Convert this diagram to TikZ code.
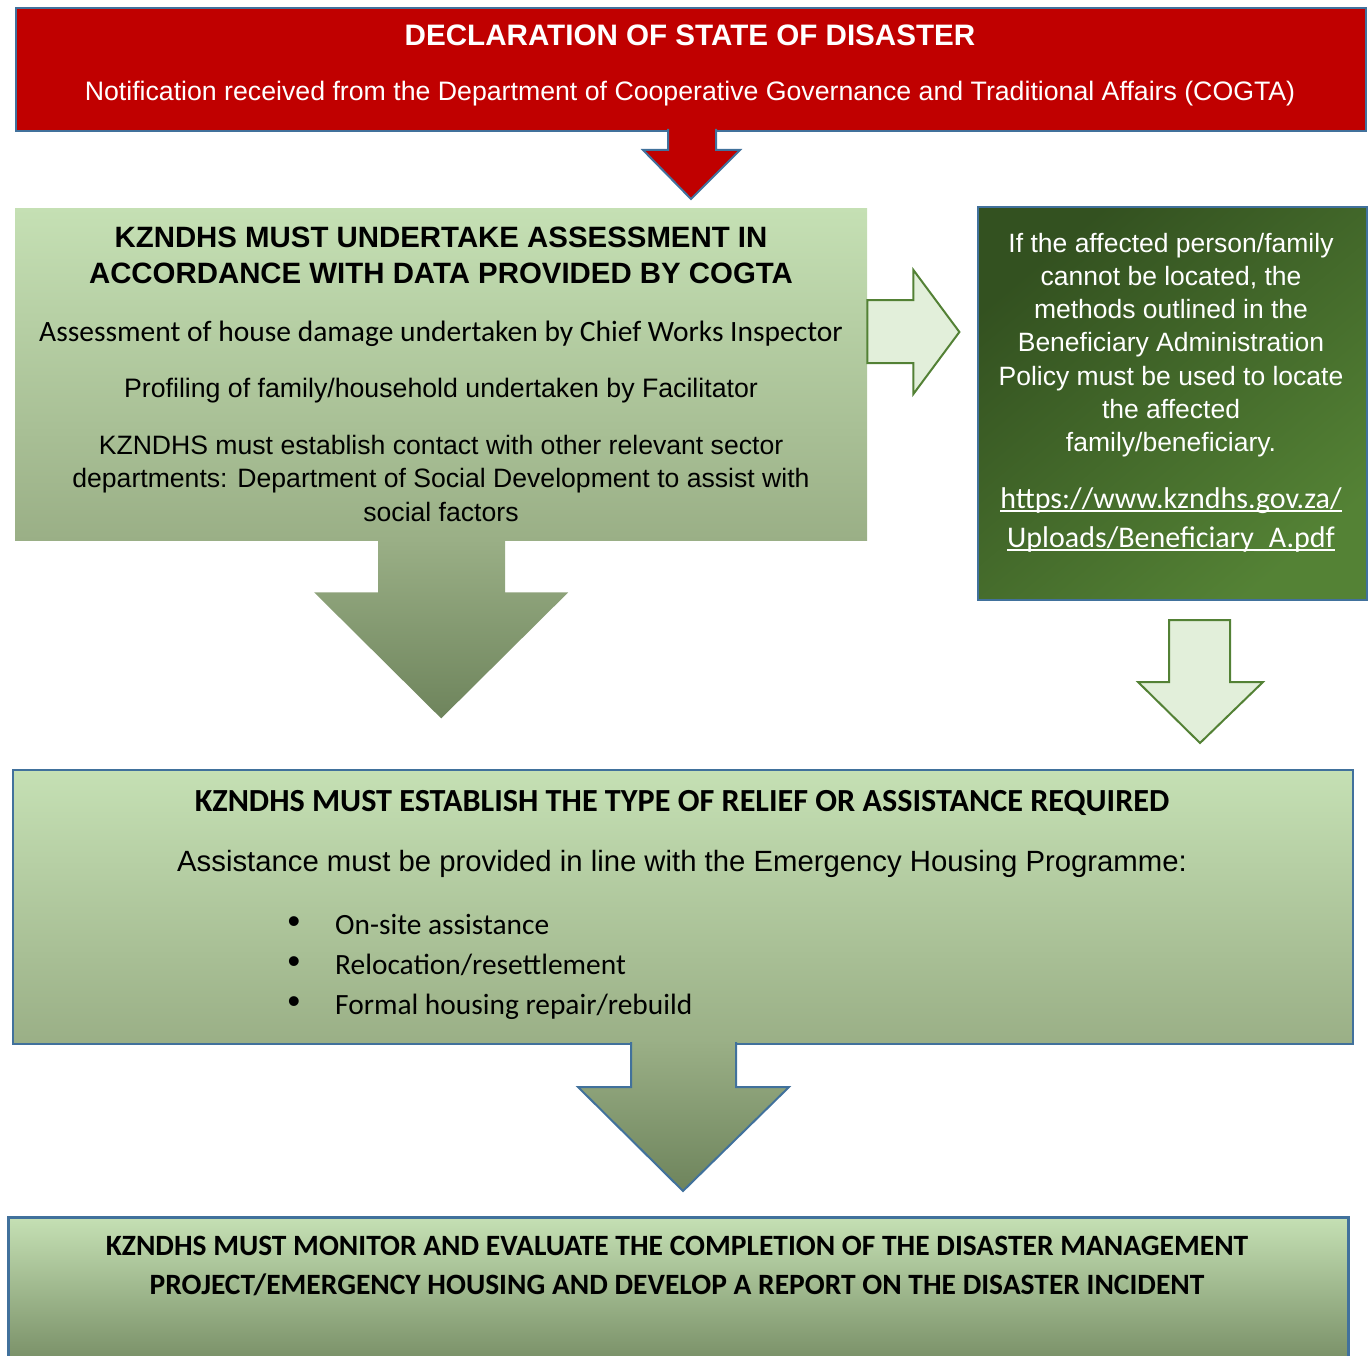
\documentclass[tikz,border=0pt]{standalone}
\usepackage{fontspec}
\setmainfont{Liberation Sans}
\newfontfamily\calibri{Carlito}
\usepackage{tikz}
\usetikzlibrary{calc}
\usetikzlibrary{positioning}

\definecolor{decred}{HTML}{C00000}
\definecolor{edgeblue}{HTML}{41719C}
\definecolor{sagetop}{HTML}{C5E0B4}
\definecolor{sagemid}{HTML}{9AAF86}
\definecolor{sagelow}{HTML}{6E845C}
\definecolor{palegreen}{HTML}{E2EFDA}
\definecolor{leafgreen}{HTML}{538135}
\definecolor{forestdark}{HTML}{335120}
\definecolor{forestlight}{HTML}{548235}

\newlength\linkwd
\newcommand{\linkunder}[1]{\settowidth{\linkwd}{#1}#1\hspace{-\linkwd}\rule[-3.5pt]{\linkwd}{1.6pt}}

\tikzset{
  panel/.style={rectangle, anchor=north west, inner sep=0pt},
  hollowarrow/.style={fill=palegreen, draw=leafgreen, line width=2pt},
  txt/.style={inner sep=0pt, align=center},
}

\begin{document}
\begin{tikzpicture}[x=1pt,y=-1pt]
  \useasboundingbox (0,0) rectangle (1370,1356);

  % boxes
  \node[panel,
    fill=decred,
    draw=edgeblue,
    line width=2pt,
    minimum width=1350pt,
    minimum height=123pt] (declare) at (15,7) {};
  \node[panel,
    top color=sagetop,
    bottom color=sagemid,
    minimum width=852pt,
    minimum height=332pt] (assess) at (15,208) {};
  \node[panel,
    top color=forestdark,
    bottom color=forestlight,
    shading angle=40,
    draw=edgeblue,
    line width=2pt,
    minimum width=389pt,
    minimum height=393pt] (locate) at (977,206) {};
  \node[panel,
    top color=sagetop,
    bottom color=sagemid,
    draw=edgeblue,
    line width=2pt,
    minimum width=1340pt,
    minimum height=274pt] (relief) at (12,769) {};
  \node[panel,
    top color=sagetop,
    bottom color=sagelow,
    draw=edgeblue,
    line width=2.5pt,
    minimum width=1340pt,
    minimum height=165pt] (monitor) at (7,1216) {};

  % block arrows
  \path[fill=decred, draw=edgeblue, line width=2pt]
    ($(declare.south)+(-23,-3)$) -- ++(0,21) -- ++(-25,0) -- ++(48,49)
    -- ++(49,-49) -- ++(-24,0) -- ++(0,-21);
  \shade[top color=sagemid, bottom color=sagelow]
    ($(assess.south)+(-63,-1)$) -- ++(0,53) -- ++(-64,0) -- ++(127,126)
    -- ++(127,-126) -- ++(-63,0) -- ++(0,-53) -- cycle;
  \draw[hollowarrow]
    ($(assess.north east)+(0,92)$) -- ++(46,0) -- ++(0,-30) -- ++(46,62)
    -- ++(-46,62) -- ++(0,-31) -- ++(-46,0) -- cycle;
  \draw[hollowarrow]
    ($(locate.south)+(-3.5,19)$) -- ++(61,0) -- ++(0,62) -- ++(33,0)
    -- ++(-63,61) -- ++(-62,-61) -- ++(31,0) -- cycle;
  \shadedraw[top color=sagemid, bottom color=sagelow, draw=edgeblue, line width=2pt]
    ($(relief.south)+(-52,-3)$) -- ++(0,45) -- ++(-53,0) -- ++(105,104)
    -- ++(106,-104) -- ++(-53,0) -- ++(0,-45);

  % texts
  \node[txt, text=white, font=\bfseries\fontsize{29.6}{34}\selectfont]
    (declaretitle) at (690,35.5) {DECLARATION OF STATE OF DISASTER};
  \node[txt, text=white, font=\fontsize{26.7}{30}\selectfont]
    (declaresub) at (690,94) {Notification received from the Department of Cooperative Governance and Traditional Affairs (COGTA)};

  \node[txt, font=\bfseries\fontsize{29.4}{36}\selectfont]
    (assesstitle) at (441,255) {KZNDHS MUST UNDERTAKE ASSESSMENT IN\\ACCORDANCE WITH DATA PROVIDED BY COGTA};
  \node[txt, font=\calibri\fontsize{29.5}{33}\selectfont]
    (assessone) at (441,334) {Assessment of house damage undertaken by Chief Works Inspector};
  \node[txt, font=\fontsize{26.7}{33}\selectfont]
    (assesstwo) at (441,391) {Profiling of family/household undertaken by Facilitator};
  \node[txt, font=\fontsize{26.6}{33.5}\selectfont]
    (assessthree) at (441,478) {KZNDHS must establish contact with other relevant sector\\departments: Department of Social Development to assist with\\social factors};

  \node[txt, text=white, font=\fontsize{26.5}{33.2}\selectfont]
    (locatetext) at (1171,345) {If the affected person/family\\cannot be located, the\\methods outlined in the\\Beneficiary Administration\\Policy must be used to locate\\the affected\\family/beneficiary.};
  \node[txt, text=white, font=\calibri\fontsize{30}{39}\selectfont]
    (locatelink) at (1171,520) {\linkunder{https://www.kzndhs.gov.za/}\\\linkunder{Uploads/Beneficiary\_A.pdf}};

  \node[txt, font=\calibri\bfseries\fontsize{32.2}{32}\selectfont]
    (relieftitle) at (682,803) {KZNDHS MUST ESTABLISH THE TYPE OF RELIEF OR ASSISTANCE REQUIRED};
  \node[txt, font=\fontsize{29.3}{32}\selectfont]
    (reliefsub) at (682,864) {Assistance must be provided in line with the Emergency Housing Programme:};
  \foreach \y/\entry [count=\i] in {925/{On-site assistance},965/{Relocation/resettlement},1005/{Formal housing repair/rebuild}} {
    \node[txt, font=\fontsize{36}{30}\selectfont] (bullet\i) at (294,\y) {\textbullet};
    \node[txt, anchor=base west, font=\calibri\fontsize{29.4}{30}\selectfont] (option\i) at (335,\y+9.5) {\entry};
  }

  \node[txt, font=\calibri\bfseries\fontsize{29.5}{39}\selectfont]
    (monitortext) at (677,1266) {KZNDHS MUST MONITOR AND EVALUATE THE COMPLETION OF THE DISASTER MANAGEMENT\\PROJECT/EMERGENCY HOUSING AND DEVELOP A REPORT ON THE DISASTER INCIDENT};
\end{tikzpicture}
\end{document}
